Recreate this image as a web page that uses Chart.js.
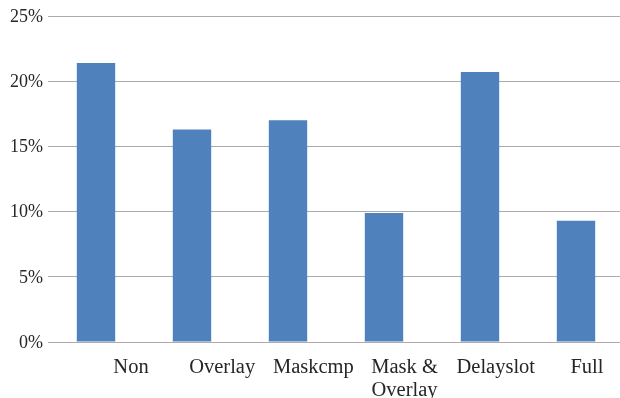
<!DOCTYPE html>
<html>
<head>
<meta charset="utf-8">
<script src="https://cdn.jsdelivr.net/npm/chart.js@4/dist/chart.umd.min.js"></script>
<style>
  html, body { margin: 0; padding: 0; background: #fff; overflow: hidden; }
  #wrap { width: 624px; height: 398px; }
</style>
</head>
<body>
<div id="wrap"><canvas id="c"></canvas></div>
<script>
// Share of cycles per optimisation variant
const categories = ['Non', 'Overlay', 'Maskcmp', ['Mask &', 'Overlay'], 'Delayslot', 'Full'];
const values = [21.4, 16.3, 17.0, 9.9, 20.7, 9.3];
const yTicks = [0, 5, 10, 15, 20, 25];

const serif = "'Liberation Serif', 'Times New Roman', serif";
const textColor = '#262626';

new Chart(document.getElementById('c'), {
  type: 'bar',
  data: {
    labels: categories,
    datasets: [{
      data: values,
      backgroundColor: '#4F81BD',
      borderWidth: 0,
      categoryPercentage: 1,
      barPercentage: 0.4,
      xAxisID: 'x',
      yAxisID: 'y'
    }]
  },
  options: {
    responsive: true,
    maintainAspectRatio: false,
    animation: false,
    events: [],
    layout: { padding: { top: 16, right: 0, bottom: 0, left: 0 } },
    plugins: { legend: { display: false }, tooltip: { enabled: false } },
    scales: {
      x: {
        type: 'category',
        display: false,
        offset: true
      },
      // Category names sit on their own axis, spread slightly right of the bars
      xLabels: {
        type: 'linear',
        position: 'bottom',
        offset: false,
        bounds: 'data',
        min: -0.91,
        max: 5.406,
        grid: { display: false, drawTicks: false, offset: false },
        border: { display: false },
        afterBuildTicks: (scale) => {
          scale.ticks = categories.map((_, i) => ({ value: i }));
        },
        afterFit: (scale) => { scale.height = 56; },
        ticks: {
          autoSkip: false,
          maxRotation: 0,
          padding: 15,
          color: textColor,
          font: { family: serif, size: 20.5, lineHeight: 1.08 },
          callback: (v) => categories[v]
        }
      },
      y: {
        min: 0,
        max: 25,
        afterBuildTicks: (scale) => {
          scale.ticks = yTicks.map(v => ({ value: v }));
        },
        afterFit: (scale) => { scale.width = 48; },
        grid: { color: '#ababab', lineWidth: 1, drawTicks: false },
        border: { display: false },
        ticks: {
          padding: 5,
          labelOffset: 1,
          color: textColor,
          font: { family: serif, size: 18 },
          callback: (v) => v + '%'
        }
      }
    }
  }
});
</script>
</body>
</html>
